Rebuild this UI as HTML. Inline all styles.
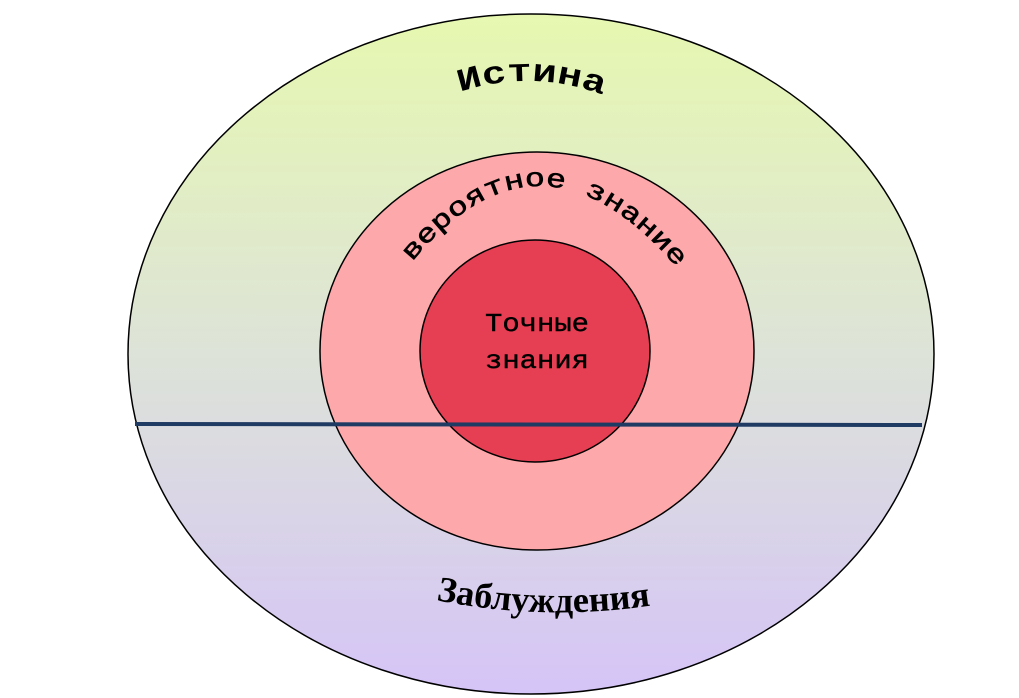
<!DOCTYPE html>
<html><head><meta charset="utf-8"><style>html,body{margin:0;padding:0;background:#fff;width:1019px;height:698px;overflow:hidden}</style></head>
<body>
<svg width="1019" height="698" viewBox="0 0 1019 698" xmlns="http://www.w3.org/2000/svg">
<defs>
<linearGradient id="g" x1="0" y1="0" x2="0" y2="1">
<stop offset="0" stop-color="#e6f8b0"/>
<stop offset="0.5" stop-color="#dde3d8"/>
<stop offset="1" stop-color="#d5c4f7"/>
</linearGradient>
<path id="p1" d="M 412 262 Q 537 110 672 262"/>
<path id="p2" d="M 460 92 Q 532 68 606 96"/>
<path id="p3" d="M 436 600 Q 545 622 655 605"/>
</defs>
<ellipse cx="531" cy="354" rx="403" ry="340" fill="url(#g)" stroke="#000" stroke-width="1.5"/>
<ellipse cx="537" cy="351" rx="217" ry="199" fill="#fda8ab" stroke="#000" stroke-width="1.5"/>
<ellipse cx="535" cy="351" rx="115" ry="111" fill="#e63e52" stroke="#000" stroke-width="1.5"/>
<line x1="135" y1="424" x2="922" y2="425" stroke="#1f3a63" stroke-width="4"/>
<text style="font-family:'Liberation Mono','DejaVu Sans Mono',monospace" font-size="32" font-weight="bold" fill="#000"><textPath href="#p2" textLength="146" lengthAdjust="spacingAndGlyphs">Истина</textPath></text>
<text style="font-family:'Liberation Mono','DejaVu Sans Mono',monospace" font-size="26" fill="#000" stroke="#000" stroke-width="0.6"><textPath href="#p1" textLength="318" lengthAdjust="spacingAndGlyphs">вероятное знание</textPath></text>
<text x="537" y="331" text-anchor="middle" style="font-family:'Liberation Mono','DejaVu Sans Mono',monospace" font-size="26" fill="#000" stroke="#000" stroke-width="0.4" textLength="104" lengthAdjust="spacingAndGlyphs">Точные</text>
<text x="537" y="368" text-anchor="middle" style="font-family:'Liberation Mono','DejaVu Sans Mono',monospace" font-size="26" fill="#000" stroke="#000" stroke-width="0.4" textLength="104" lengthAdjust="spacingAndGlyphs">знания</text>
<text style="font-family:'Liberation Serif',serif" font-size="36" font-weight="bold" fill="#000"><textPath href="#p3" textLength="216" lengthAdjust="spacingAndGlyphs">Заблуждения</textPath></text>
</svg>
</body></html>
